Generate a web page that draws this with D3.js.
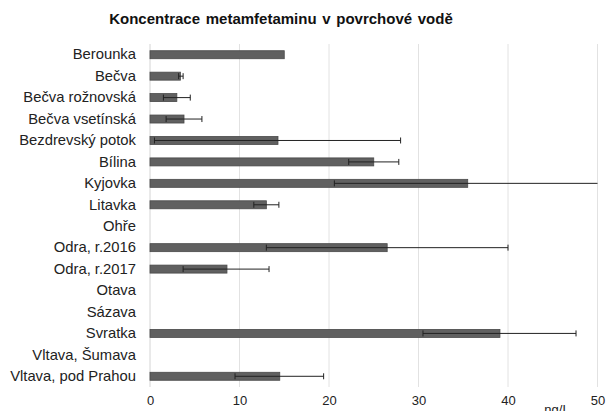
<!DOCTYPE html>
<html><head><meta charset="utf-8">
<script src="https://cdn.jsdelivr.net/npm/d3@7"></script>
<style>body{margin:0;background:#fff}svg{display:block}</style>
</head><body>
<svg id="c" width="606" height="411"></svg>
<script>
const categories = ["Berounka","Bečva","Bečva rožnovská","Bečva vsetínská","Bezdrevský potok","Bílina","Kyjovka","Litavka","Ohře","Odra, r.2016","Odra, r.2017","Otava","Sázava","Svratka","Vltava, Šumava","Vltava, pod Prahou"];
const values   = [15.0, 3.4, 3.0, 3.8, 14.3, 25.0, 35.5, 13.0, null, 26.5, 8.6, null, null, 39.1, null, 14.5];
const errLow   = [null, 3.2, 1.5, 1.8, 0.5, 22.2, 20.6, 11.6, null, 13.0, 3.7, null, null, 30.5, null, 9.5];
const errHigh  = [null, 3.7, 4.5, 5.8, 28.0, 27.8, 50.0, 14.4, null, 40.0, 13.3, null, null, 47.6, null, 19.4];
const ticks = [0,10,20,30,40,50];
const title = "Koncentrace metamfetaminu v povrchové vodě";
const unit = "ng/L";

const svg = d3.select("#c");
const font = "'Liberation Sans', Arial, sans-serif";
const x = d3.scaleLinear().domain([0,50]).range([150,597.5]);
const y = d3.scaleBand().domain(categories).range([44,387]);

svg.append("text").attr("x",281).attr("y",24).attr("text-anchor","middle")
  .attr("font-family",font).attr("font-weight","bold").attr("font-size",15)
  .attr("word-spacing","1.5px").attr("fill","#111").text(title);

svg.append("g").selectAll("line").data(ticks).join("line")
  .attr("x1",d=>x(d)).attr("x2",d=>x(d)).attr("y1",44).attr("y2",387)
  .attr("stroke",d=>d===0?"#d4d4d4":"#e2e2e2").attr("stroke-width",1);

const ax = d3.axisBottom(x).tickValues(ticks).tickSize(0).tickPadding(0);
const axg = svg.append("g").attr("transform","translate(0,393)").call(ax);
axg.select(".domain").remove();
axg.selectAll("text").attr("font-family",font).attr("font-size",13).attr("fill","#222").attr("dy","0.95em");

const ay = d3.axisLeft(y).tickSize(0).tickPadding(0);
const ayg = svg.append("g").attr("transform","translate(136,0)").call(ay);
ayg.select(".domain").remove();
ayg.selectAll("text").attr("font-family",font).attr("font-size",14.8).attr("fill","#222");

const data = categories.map((c,i)=>({c,v:values[i],lo:errLow[i],hi:errHigh[i]})).filter(d=>d.v!=null);
const bh = 8;
svg.append("g").selectAll("rect").data(data).join("rect")
  .attr("x",x(0)).attr("width",d=>x(d.v)-x(0))
  .attr("y",d=>y(d.c)+y.bandwidth()/2-bh/2).attr("height",bh)
  .attr("fill","#606060").attr("stroke","#4a4a4a").attr("stroke-width",0.8);

const eb = svg.append("g").selectAll("g").data(data.filter(d=>d.lo!=null)).join("g")
  .attr("transform",d=>`translate(0,${y(d.c)+y.bandwidth()/2})`);
eb.append("line").attr("x1",d=>x(d.lo)).attr("x2",d=>x(d.hi)).attr("stroke","#222").attr("stroke-width",1);
eb.append("line").attr("x1",d=>x(d.lo)).attr("x2",d=>x(d.lo)).attr("y1",-3).attr("y2",3).attr("stroke","#222").attr("stroke-width",1);
eb.append("line").attr("x1",d=>x(d.hi)).attr("x2",d=>x(d.hi)).attr("y1",-3).attr("y2",3).attr("stroke","#222").attr("stroke-width",1).attr("display",d=>d.hi>=50?"none":null);

svg.append("text").attr("x",557).attr("y",414).attr("text-anchor","middle")
  .attr("font-family",font).attr("font-size",13).attr("fill","#222").text(unit);
</script>
</body></html>
